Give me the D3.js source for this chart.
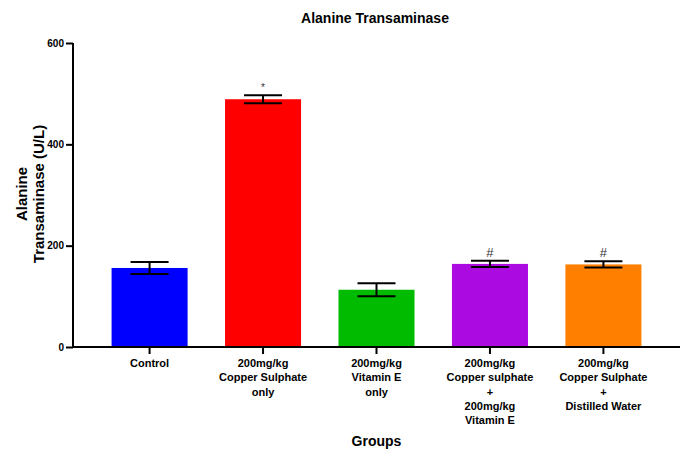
<!DOCTYPE html>
<html>
<head>
<meta charset="utf-8">
<script src="https://cdn.jsdelivr.net/npm/d3@7"></script>
<style>
  html, body { margin: 0; padding: 0; background: #fff; }
  svg { display: block; font-family: "Liberation Sans", Arial, sans-serif; }
</style>
</head>
<body>
<svg id="chart" width="688" height="451"></svg>
<script>
// Group labels (one entry per line of the axis label)
const groups = [
  ["Control"],
  ["200mg/kg", "Copper Sulphate", "only"],
  ["200mg/kg", "Vitamin E", "only"],
  ["200mg/kg", "Copper sulphate", "+", "200mg/kg", "Vitamin E"],
  ["200mg/kg", "Copper Sulphate", "+", "Distilled Water"]
];
// Mean ALT (U/L) and error (±)
const means = [156, 489, 113, 164, 163];
const errors = [12, 8, 13, 6, 6];
// Significance marks above bars
const marks = ["", "*", "", "#", "#"];
const barColors = ["#0000ff", "#ff0000", "#00bb00", "#ab0ae0", "#ff8000"];
const yTicks = [0, 200, 400, 600];

const svg = d3.select("#chart");
const plotLeft = 73, plotRight = 680, plotTop = 43, plotBottom = 347;

const x = d3.scaleBand()
  .domain(d3.range(groups.length))
  .range([plotLeft, plotRight])
  .paddingInner(0.33)
  .paddingOuter(0.34);

const y = d3.scaleLinear().domain([0, 600]).range([plotBottom, plotTop]);

// Bars
svg.append("g").selectAll("rect")
  .data(means)
  .join("rect")
  .attr("x", (d, i) => x(i))
  .attr("width", x.bandwidth())
  .attr("y", d => y(d))
  .attr("height", d => y(0) - y(d))
  .attr("fill", (d, i) => barColors[i]);

// Error bars
const capHalf = x.bandwidth() / 4;
const eb = svg.append("g").attr("stroke", "#000").attr("stroke-width", 2);
means.forEach((m, i) => {
  const cx = x(i) + x.bandwidth() / 2;
  const hi = y(m + errors[i]), lo = y(m - errors[i]);
  eb.append("line").attr("x1", cx).attr("x2", cx).attr("y1", hi).attr("y2", lo);
  eb.append("line").attr("x1", cx - capHalf).attr("x2", cx + capHalf).attr("y1", hi).attr("y2", hi);
  eb.append("line").attr("x1", cx - capHalf).attr("x2", cx + capHalf).attr("y1", lo).attr("y2", lo);
});

// Significance marks
svg.append("g").selectAll("text")
  .data(marks)
  .join("text")
  .attr("x", (d, i) => x(i) + x.bandwidth() / 2)
  .attr("y", (d, i) => y(means[i] + errors[i]) - 4)
  .attr("text-anchor", "middle")
  .attr("font-size", d => d === "*" ? 10 : 13)
  .attr("fill", "#333")
  .text(d => d);

// Y axis
const yAxis = svg.append("g")
  .attr("transform", `translate(${plotLeft},0)`)
  .call(d3.axisLeft(y).tickValues(yTicks).tickSize(7).tickPadding(2));
yAxis.select(".domain").attr("stroke-width", 2).attr("d", `M0,${plotTop}V${plotBottom + 1}`);
yAxis.selectAll(".tick line").attr("stroke-width", 2);
yAxis.selectAll(".tick text")
  .attr("font-size", 10).attr("font-weight", "bold")
  .attr("font-family", "Liberation Sans, Arial, sans-serif").attr("fill", "#000");

// X axis
const xAxis = svg.append("g")
  .attr("transform", `translate(0,${plotBottom})`)
  .call(d3.axisBottom(x).tickSize(7).tickFormat(""));
xAxis.select(".domain").attr("stroke-width", 2).attr("d", `M${plotLeft - 1},0H${plotRight}`);
xAxis.selectAll(".tick line").attr("stroke-width", 2);

// Multi-line group labels
const labelG = svg.append("g")
  .attr("font-size", 11).attr("font-weight", "bold").attr("text-anchor", "middle");
const lineY = [367, 381, 395.5, 409.5, 424];
groups.forEach((lines, i) => {
  const t = labelG.append("text").attr("x", x(i) + x.bandwidth() / 2);
  lines.forEach((ln, j) => {
    t.append("tspan").attr("x", x(i) + x.bandwidth() / 2).attr("y", lineY[j]).text(ln);
  });
});

// Title
svg.append("text")
  .attr("x", 375).attr("y", 23)
  .attr("text-anchor", "middle")
  .attr("font-size", 14).attr("font-weight", "bold")
  .text("Alanine Transaminase");

// Y axis title
const yt = svg.append("text")
  .attr("transform", "translate(0,194) rotate(-90)")
  .attr("text-anchor", "middle")
  .attr("font-size", 15).attr("font-weight", "bold");
yt.append("tspan").attr("x", 0).attr("y", 27).text("Alanine");
yt.append("tspan").attr("x", 0).attr("y", 44).text("Transaminase (U/L)");

// X axis title
svg.append("text")
  .attr("x", 376.5).attr("y", 446)
  .attr("text-anchor", "middle")
  .attr("font-size", 14).attr("font-weight", "bold")
  .text("Groups");
</script>
</body>
</html>
